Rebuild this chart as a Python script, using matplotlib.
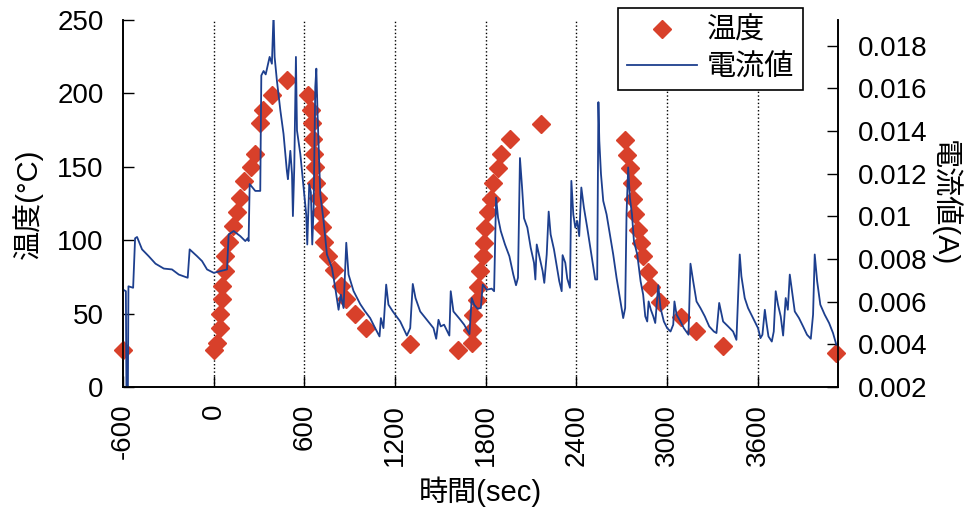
import numpy as np
import matplotlib
matplotlib.use('Agg')
import matplotlib.pyplot as plt

plt.rcParams['font.family'] = ['Liberation Sans', 'Noto Sans CJK JP']

# temperature readings (sec, degC)
temp_time = [-600, 0, 22, 40, 44, 55, 55, 73, 73, 104, 130, 156, 176, 198, 249, 271,
             304, 324, 385, 484, 626, 643, 650, 656, 661, 667, 676, 689, 700, 716,
             733, 755, 793, 844, 877, 936, 1009, 1300, 1615, 1707, 1707, 1716, 1740,
             1751, 1762, 1780, 1791, 1795, 1817, 1835, 1850, 1879, 1901, 1960, 2163,
             2720, 2731, 2753, 2764, 2775, 2786, 2804, 2830, 2841, 2870, 2896, 2955,
             3091, 3189, 3372, 4119]
temp_vals = [25, 25, 30, 40, 50, 60, 69, 79, 89, 99, 110, 119, 129, 140, 150, 159,
             180, 189, 199, 209, 199, 189, 180, 169, 159, 150, 139, 129, 119, 109,
             99, 89, 80, 69, 60, 50, 40, 29, 25, 30, 39, 49, 59,
             68, 79, 89, 98, 108, 119, 128, 139, 149, 159, 169, 179,
             168, 158, 149, 139, 128, 118, 107, 98, 89, 78, 68, 58,
             48, 38, 28, 23]

# current readings (sec, A)
cur_time = [-599, -581, -577, -568, -564, -533, -520, -507, -474, -430, -385, -330,
            -276, -231, -172, -159, -110, -77, -44, 0, 44, 88, 99, 132, 176, 209,
            225, 231, 238, 253, 275, 308, 315, 330, 344, 357, 370, 385, 396, 403,
            418, 441, 462, 484, 491, 507, 518, 524, 533, 544, 551, 573, 595, 612,
            619, 632, 643, 652, 661, 672, 679, 687, 705, 727, 749, 782, 804, 826,
            841, 859, 877, 892, 925, 947, 969, 1002, 1035, 1068, 1097, 1106, 1123,
            1141, 1156, 1185, 1234, 1278, 1300, 1317, 1335, 1366, 1410, 1454, 1472,
            1487, 1502, 1524, 1559, 1568, 1586, 1626, 1657, 1692, 1707, 1723, 1745,
            1767, 1780, 1806, 1839, 1855, 1868, 1881, 1899, 1927, 1956, 1982, 2000,
            2013, 2026, 2040, 2053, 2075, 2097, 2119, 2128, 2137, 2154, 2176, 2187,
            2203, 2216, 2229, 2251, 2273, 2286, 2302, 2308, 2326, 2339, 2357, 2366,
            2379, 2392, 2405, 2418, 2432, 2449, 2471, 2493, 2511, 2524, 2537, 2545,
            2551, 2562, 2577, 2599, 2621, 2643, 2665, 2687, 2709, 2722, 2731, 2742,
            2753, 2767, 2780, 2802, 2824, 2841, 2855, 2868, 2877, 2892, 2908, 2921,
            2941, 2956, 2978, 3000, 3022, 3040, 3048, 3062, 3088, 3110, 3141, 3154,
            3172, 3194, 3220, 3249, 3278, 3309, 3326, 3344, 3370, 3403, 3436, 3458,
            3480, 3491, 3513, 3535, 3557, 3579, 3601, 3617, 3630, 3646, 3657, 3670,
            3692, 3705, 3718, 3733, 3751, 3767, 3784, 3798, 3811, 3826, 3844, 3872,
            3899, 3925, 3950, 3965, 3976, 3992, 4013, 4042, 4071, 4097, 4119]
cur_vals = [0.00656, 0.00649, 0.0015, 0.0015, 0.00672, 0.00665, 0.00897, 0.00903,
            0.00845, 0.00813, 0.00778, 0.00755, 0.00751, 0.00727, 0.00712, 0.00845,
            0.00813, 0.0079, 0.00751, 0.00735, 0.00743, 0.00751, 0.00915, 0.00931,
            0.00907, 0.00884, 0.00897, 0.00884, 0.01151, 0.01138, 0.01119, 0.01119,
            0.0166, 0.01681, 0.01665, 0.01707, 0.01747, 0.01715, 0.0195, 0.01747,
            0.01637, 0.01496, 0.01386, 0.01213, 0.01174, 0.01307, 0.01198, 0.01001,
            0.01229, 0.01747, 0.01402, 0.01292, 0.01135, 0.01009, 0.00868, 0.01151,
            0.01112, 0.00868, 0.01041, 0.01606, 0.01692, 0.0148, 0.01104, 0.00978,
            0.00821, 0.00759, 0.00665, 0.00562, 0.00633, 0.0057, 0.00876, 0.00727,
            0.0065, 0.0062, 0.00589, 0.00554, 0.00523, 0.00476, 0.00437, 0.00523,
            0.00476, 0.0068, 0.00586, 0.00554, 0.00507, 0.00441, 0.00476, 0.00683,
            0.00617, 0.00554, 0.00515, 0.00476, 0.00426, 0.00515, 0.00484, 0.00492,
            0.00441, 0.00649, 0.00554, 0.0052, 0.00492, 0.00448, 0.00617, 0.00586,
            0.00567, 0.0057, 0.0068, 0.00656, 0.00661, 0.00649, 0.01088, 0.00994,
            0.00931, 0.00868, 0.00813, 0.00727, 0.00677, 0.00712, 0.01273, 0.01135,
            0.00991, 0.00947, 0.00853, 0.00782, 0.00704, 0.00868, 0.00813, 0.00743,
            0.00688, 0.00821, 0.01022, 0.00915, 0.00845, 0.00751, 0.00696, 0.00649,
            0.00818, 0.00782, 0.00708, 0.00665, 0.01166, 0.01009, 0.00947, 0.00978,
            0.00907, 0.01135, 0.01041, 0.00947, 0.00845, 0.00759, 0.00704, 0.00704,
            0.01535, 0.01354, 0.01198, 0.01072, 0.01009, 0.00915, 0.00821, 0.00712,
            0.00617, 0.00523, 0.0057, 0.01009, 0.01229, 0.01088, 0.01009, 0.00884,
            0.00821, 0.00696, 0.00633, 0.00531, 0.00507, 0.00601, 0.00562, 0.00531,
            0.005, 0.00677, 0.0057, 0.00507, 0.00476, 0.0046, 0.00492, 0.00601,
            0.00539, 0.00507, 0.00476, 0.00445, 0.00778, 0.00696, 0.00601, 0.0057,
            0.00531, 0.00484, 0.0046, 0.00453, 0.00594, 0.00507, 0.00484, 0.0046,
            0.00421, 0.00821, 0.00719, 0.00617, 0.0057, 0.00539, 0.00507, 0.00476,
            0.00429, 0.00445, 0.00562, 0.005, 0.00437, 0.00413, 0.0046, 0.00649,
            0.00586, 0.00531, 0.00441, 0.00617, 0.00562, 0.00727, 0.00649, 0.00554,
            0.00523, 0.00484, 0.00445, 0.00426, 0.00539, 0.00821, 0.00696, 0.00586,
            0.00539, 0.005, 0.00453, 0.00398]

xticks = [-600, 0, 600, 1200, 1800, 2400, 3000, 3600]
yticks_t = [0, 50, 100, 150, 200, 250]
yticks_c = [0.002, 0.004, 0.006, 0.008, 0.01, 0.012, 0.014, 0.016, 0.018]
ytick_c_labels = ['0.002', '0.004', '0.006', '0.008', '0.01', '0.012', '0.014', '0.016', '0.018']

fig = plt.figure(figsize=(9.7, 5.19), dpi=100)
ax = fig.add_axes([123/970, 1-387/519, (838-123)/970, (387-20)/519])
ax2 = ax.twinx()

for t in xticks[1:]:
    ax.axvline(t, color='black', ls=':', lw=1.0, zorder=0)

red = '#d8402a'
blue = '#1d3f8e'
h1, = ax.plot(temp_time, temp_vals, ls='none', marker='D', ms=9, color=red,
              markeredgecolor=red, clip_on=False, zorder=3, label='温度')
h2, = ax2.plot(cur_time, cur_vals, color=blue, lw=1.3, label='電流値')

ax.set_xlim(-600, 4130)
ax.set_ylim(0, 250)
ax2.set_ylim(0.002, 0.0192)

ax.set_xticks(xticks)
ax.set_xticklabels([str(v) for v in xticks], rotation=90)
ax.set_yticks(yticks_t)
ax2.set_yticks(yticks_c)
ax2.set_yticklabels(ytick_c_labels)

ax.tick_params(axis='both', direction='in', length=8, width=1, labelsize=20, pad=14)
ax.tick_params(axis='x', pad=12)
ax2.tick_params(axis='y', direction='in', length=8, width=1, labelsize=20, pad=14)

for a in (ax, ax2):
    a.spines['top'].set_visible(False)
    for s in ('left', 'right', 'bottom'):
        a.spines[s].set_linewidth(1.2)

ax.set_xlabel('時間(sec)', fontsize=21, labelpad=8)
ax.set_ylabel('温度(°C)', fontsize=21, labelpad=10)
ax2.set_ylabel('電流値(A)', fontsize=21, rotation=270, labelpad=24)

leg = fig.legend([h1, h2], ['温度', '電流値'], loc='upper right',
                 bbox_to_anchor=(803/970, 1-8/519), fontsize=21, frameon=True,
                 fancybox=False, edgecolor='black', framealpha=1,
                 handlelength=2.4, borderpad=0.3, labelspacing=0.3,
                 handletextpad=0.35, borderaxespad=0)
leg.get_frame().set_linewidth(1.2)

fig.savefig('out.png', dpi=100)
